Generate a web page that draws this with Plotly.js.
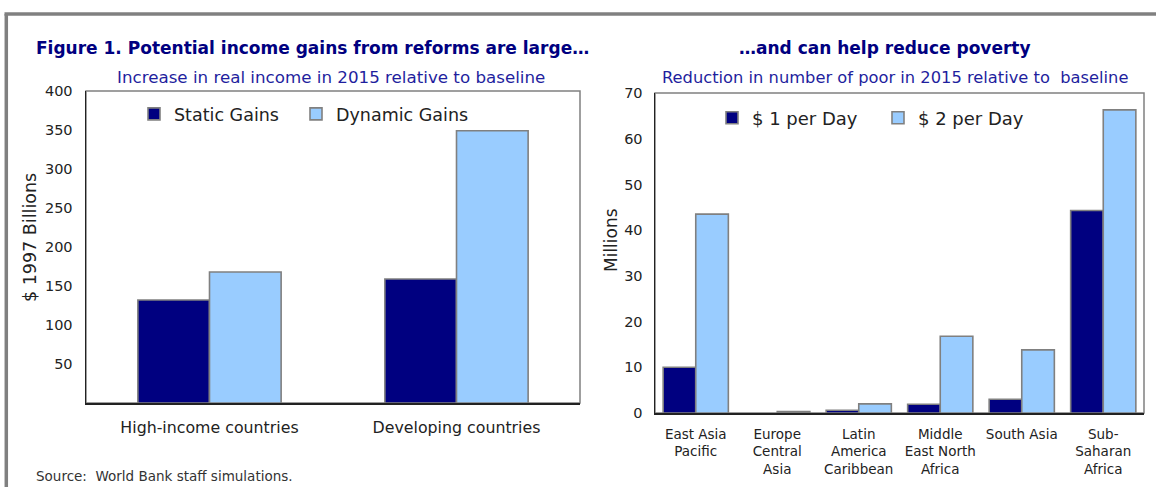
<!DOCTYPE html>
<html>
<head>
<meta charset="utf-8">
<script src="https://cdn.plot.ly/plotly-3.0.1.min.js"></script>
<style>
html,body{margin:0;padding:0;background:#fff;}
#chart{width:1156px;height:487px;}
</style>
</head>
<body>
<div id="chart"></div>
<script>
// ---- Data ----
const incomeCategories = ["High-income countries", "Developing countries"];
const staticGains = [132, 159];
const dynamicGains = [168, 349];

const regionCategories = ["East Asia Pacific", "Europe Central Asia", "Latin America Caribbean",
  "Middle East North Africa", "South Asia", "Sub-Saharan Africa"];
const regionTickLabels = ["East Asia<br>Pacific", "Europe<br>Central<br>Asia", "Latin<br>America<br>Caribbean",
  "Middle<br>East North<br>Africa", "South Asia", "Sub-<br>Saharan<br>Africa"];
const onePerDay = [10.0, null, 0.6, 1.9, 3.0, 44.3];
const twoPerDay = [43.5, 0.3, 2.0, 16.8, 13.8, 66.3];

const leftTicks = [50, 100, 150, 200, 250, 300, 350, 400];
const rightTicks = [0, 10, 20, 30, 40, 50, 60, 70];

// ---- Layout helpers ----
const W = 1156, H = 487;
const px = v => v / W;
const py = v => 1 - v / H;

const navy = "#000080";
const light = "#99ccff";
const outline = {color: "#808080", width: 1.6};
const base = "DejaVu Sans, Verdana, sans-serif";

const traces = [
  {type: "bar", name: "Static Gains", x: incomeCategories, y: staticGains, xaxis: "x", yaxis: "y",
   marker: {color: navy, line: outline}, offset: -0.29, width: 0.29, legend: "legend", legendwidth: 117, hoverinfo: "y"},
  {type: "bar", name: "Dynamic Gains", x: incomeCategories, y: dynamicGains, xaxis: "x", yaxis: "y",
   marker: {color: light, line: outline}, offset: 0, width: 0.29, legend: "legend", legendwidth: 150, hoverinfo: "y"},
  {type: "bar", name: "$ 1 per Day", x: regionCategories, y: onePerDay, xaxis: "x2", yaxis: "y2",
   marker: {color: navy, line: outline}, offset: -0.40, width: 0.40, legend: "legend2", legendwidth: 121, hoverinfo: "y"},
  {type: "bar", name: "$ 2 per Day", x: regionCategories, y: twoPerDay, xaxis: "x2", yaxis: "y2",
   marker: {color: light, line: outline}, offset: 0, width: 0.40, legend: "legend2", legendwidth: 150, hoverinfo: "y"}
];

const axisLine = {showline: true, linecolor: "#222", linewidth: 1.5, zeroline: false, showgrid: false, ticks: ""};

const layout = {
  width: W, height: H,
  margin: {l: 0, r: 0, t: 0, b: 0},
  paper_bgcolor: "#fff", plot_bgcolor: "#fff",
  barmode: "overlay",
  showlegend: true,
  font: {family: base, color: "#222"},
  xaxis: Object.assign({}, axisLine, {domain: [px(86), px(580)], anchor: "y", type: "category",
    tickfont: {family: base, size: 15.8, color: "#222"}, ticklabelstandoff: 10, fixedrange: true}),
  yaxis: Object.assign({}, axisLine, {domain: [1 - 403 / H, 1 - 91 / H], anchor: "x", range: [0, 400],
    tickvals: leftTicks, ticktext: leftTicks.map(String),
    tickfont: {family: base, size: 14.5, color: "#222"}, ticklabelstandoff: 9, fixedrange: true}),
  xaxis2: Object.assign({}, axisLine, {domain: [px(655), px(1144)], anchor: "y2", type: "category",
    tickvals: regionCategories, ticktext: regionTickLabels,
    tickfont: {family: base, size: 13.5, color: "#222"}, ticklabelstandoff: 8, fixedrange: true}),
  yaxis2: Object.assign({}, axisLine, {domain: [1 - 413 / H, 1 - 93 / H], anchor: "x2", range: [0, 70],
    tickvals: rightTicks, ticktext: rightTicks.map(String),
    tickfont: {family: base, size: 14.5, color: "#222"}, ticklabelstandoff: 8, fixedrange: true}),
  legend: {orientation: "h", x: px(134), xanchor: "left", y: py(114), yanchor: "middle",
    font: {family: base, size: 17.5, color: "#222"}, bgcolor: "rgba(0,0,0,0)",
    entrywidthmode: "pixels", traceorder: "normal"},
  legend2: {orientation: "h", x: px(712), xanchor: "left", y: py(118), yanchor: "middle",
    font: {family: base, size: 18, color: "#222"}, bgcolor: "rgba(0,0,0,0)",
    entrywidthmode: "pixels", traceorder: "normal"},
  shapes: [
    {type: "rect", xref: "x domain", yref: "y domain", x0: 0, x1: 1, y0: 0, y1: 1,
     line: {color: "#808080", width: 1.5}, layer: "below"},
    {type: "rect", xref: "x2 domain", yref: "y2 domain", x0: 0, x1: 1, y0: 0, y1: 1,
     line: {color: "#808080", width: 1.5}, layer: "below"},
    {type: "line", xref: "paper", yref: "paper", x0: px(4.5), x1: 1, y0: py(14), y1: py(14),
     line: {color: "#808080", width: 3.5}},
    {type: "line", xref: "paper", yref: "paper", x0: px(6.3), x1: px(6.3), y0: 0, y1: py(14),
     line: {color: "#808080", width: 3.5}}
  ],
  annotations: [
    {text: "<b>Figure 1. Potential income gains from reforms are large…</b>", xref: "paper", yref: "paper",
     x: px(34), y: py(48), xanchor: "left", yanchor: "middle", showarrow: false,
     font: {family: base, size: 17, color: navy}},
    {text: "Increase in real income in 2015 relative to baseline", xref: "paper", yref: "paper",
     x: px(331), y: py(77), xanchor: "center", yanchor: "middle", showarrow: false,
     font: {family: base, size: 16.7, color: "#1f1f9e"}},
    {text: "<b>…and can help reduce poverty</b>", xref: "paper", yref: "paper",
     x: px(885), y: py(48), xanchor: "center", yanchor: "middle", showarrow: false,
     font: {family: base, size: 17, color: navy}},
    {text: "Reduction in number of poor in 2015 relative to  baseline", xref: "paper", yref: "paper",
     x: px(895), y: py(77), xanchor: "center", yanchor: "middle", showarrow: false,
     font: {family: base, size: 16.3, color: "#1f1f9e"}},
    {text: "$ 1997 Billions", xref: "paper", yref: "paper", x: px(30), y: py(238),
     xanchor: "center", yanchor: "middle", textangle: -90, showarrow: false,
     font: {family: base, size: 17.5, color: "#222"}},
    {text: "Millions", xref: "paper", yref: "paper", x: px(611), y: py(240),
     xanchor: "center", yanchor: "middle", textangle: -90, showarrow: false,
     font: {family: base, size: 17, color: "#222"}},
    {text: "Source:  World Bank staff simulations.", xref: "paper", yref: "paper",
     x: px(34), y: py(476), xanchor: "left", yanchor: "middle", showarrow: false,
     font: {family: base, size: 13.5, color: "#333"}}
  ]
};

Plotly.newPlot("chart", traces, layout, {displayModeBar: false, staticPlot: true});
</script>
</body>
</html>
